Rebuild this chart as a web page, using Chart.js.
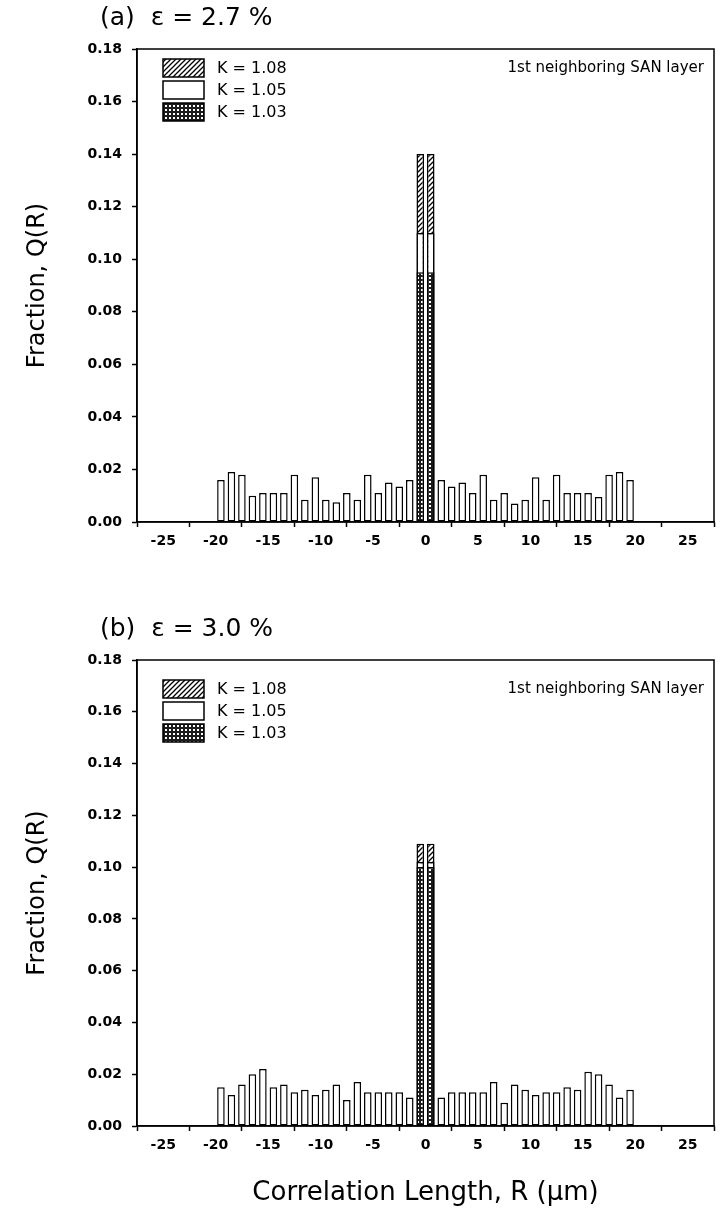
<!DOCTYPE html>
<html>
<head>
<meta charset="utf-8">
<script src="https://cdn.jsdelivr.net/npm/chart.js@4.4.1/dist/chart.umd.min.js"></script>
<style>
  body { margin: 0; background: #fff; width: 721px; height: 1213px; position: relative; overflow: hidden; }
  canvas { position: absolute; left: 0; }
  #chartA { top: 0; }
  #chartB { top: 560px; }
</style>
</head>
<body>
<canvas id="chartA" width="721" height="560"></canvas>
<canvas id="chartB" width="721" height="653"></canvas>
<script>
// bin centres of the histogram, R in micrometres
const rBins = [-19.5, -18.5, -17.5, -16.5, -15.5, -14.5, -13.5, -12.5, -11.5, -10.5,
  -9.5, -8.5, -7.5, -6.5, -5.5, -4.5, -3.5, -2.5, -1.5, -0.5,
  0.5, 1.5, 2.5, 3.5, 4.5, 5.5, 6.5, 7.5, 8.5, 9.5,
  10.5, 11.5, 12.5, 13.5, 14.5, 15.5, 16.5, 17.5, 18.5, 19.5];
const peakBins = [-0.5, 0.5];
const xTicks = [-25, -20, -15, -10, -5, 0, 5, 10, 15, 20, 25];
const yTicks = [0.00, 0.02, 0.04, 0.06, 0.08, 0.10, 0.12, 0.14, 0.16, 0.18];
const kLabels = ['K = 1.08', 'K = 1.05', 'K = 1.03'];

// (a) eps = 2.7 %
const qA_K105 = [0.016, 0.019, 0.018, 0.010, 0.011, 0.011, 0.011, 0.018, 0.0085, 0.017,
  0.0085, 0.0075, 0.011, 0.0085, 0.018, 0.011, 0.015, 0.0135, 0.016, 0.110,
  0.110, 0.016, 0.0135, 0.015, 0.011, 0.018, 0.0085, 0.011, 0.007, 0.0085,
  0.017, 0.0085, 0.018, 0.011, 0.011, 0.011, 0.0095, 0.018, 0.019, 0.016];
const peakA_K108 = [0.140, 0.140];
const peakA_K103 = [0.095, 0.095];

// (b) eps = 3.0 %
const qB_K105 = [0.015, 0.012, 0.016, 0.020, 0.022, 0.015, 0.016, 0.013, 0.014, 0.012,
  0.014, 0.016, 0.010, 0.017, 0.013, 0.013, 0.013, 0.013, 0.011, 0.102,
  0.102, 0.011, 0.013, 0.013, 0.013, 0.013, 0.017, 0.009, 0.016, 0.014,
  0.012, 0.013, 0.013, 0.015, 0.014, 0.021, 0.020, 0.016, 0.011, 0.014];
const peakB_K108 = [0.109, 0.109];
const peakB_K103 = [0.100, 0.100];

const FONT = '"DejaVu Sans", sans-serif';

function makeHatch() {
  const c = document.createElement('canvas');
  c.width = 5; c.height = 5;
  const g = c.getContext('2d');
  g.fillStyle = '#fff'; g.fillRect(0, 0, 5, 5);
  g.strokeStyle = '#000'; g.lineWidth = 1.3;
  g.beginPath();
  g.moveTo(-1, 6); g.lineTo(6, -1);
  g.moveTo(-1, 1); g.lineTo(1, -1);
  g.moveTo(4, 6); g.lineTo(6, 4);
  g.stroke();
  return g.createPattern(c, 'repeat');
}

function makeDots() {
  const c = document.createElement('canvas');
  c.width = 4; c.height = 4;
  const g = c.getContext('2d');
  g.fillStyle = '#1c1c1c'; g.fillRect(0, 0, 4, 4);
  g.fillStyle = '#fff'; g.fillRect(1, 1, 2, 2);
  return g.createPattern(c, 'repeat');
}

const hatch = makeHatch();
const dots = makeDots();

function pts(xs, ys) {
  return xs.map((x, i) => ({ x: x, y: ys[i] }));
}

// frame, panel title, note and legend
const panelDecor = {
  id: 'panelDecor',
  afterDraw(chart, args, opts) {
    const ctx = chart.ctx, a = chart.chartArea;
    ctx.save();
    ctx.strokeStyle = '#000';
    ctx.lineWidth = 1.5;
    ctx.strokeRect(a.left, a.top, a.right - a.left, a.bottom - a.top);

    ctx.fillStyle = '#000';
    ctx.textBaseline = 'middle';
    ctx.textAlign = 'left';
    ctx.font = '25px ' + FONT;
    ctx.fillText(opts.title, 100, a.top - 31);

    ctx.font = '15px ' + FONT;
    ctx.textAlign = 'right';
    ctx.fillText(opts.note, a.right - 10, a.top + opts.legendTop + 9);

    ctx.textAlign = 'left';
    ctx.font = '16px ' + FONT;
    chart.data.datasets.forEach((ds, i) => {
      const x = a.left + 26, y = a.top + opts.legendTop + i * 22;
      ctx.fillStyle = ds.backgroundColor;
      ctx.fillRect(x, y, 41, 18);
      ctx.lineWidth = 1.5;
      ctx.strokeRect(x, y, 41, 18);
      ctx.fillStyle = '#000';
      ctx.fillText(ds.label, x + 54, y + 10);
    });
    ctx.restore();
  }
};

function buildPanel(id, opts) {
  const barStyle = { borderColor: '#000', borderWidth: 1.5, borderSkipped: false,
    barPercentage: 0.72, categoryPercentage: 1 };
  return new Chart(document.getElementById(id), {
    type: 'bar',
    data: {
      datasets: [
        Object.assign({ label: kLabels[0], data: pts(peakBins, opts.k108), backgroundColor: hatch, order: 2 }, barStyle),
        Object.assign({ label: kLabels[1], data: pts(rBins, opts.k105), backgroundColor: '#fff', order: 1 }, barStyle),
        Object.assign({ label: kLabels[2], data: pts(peakBins, opts.k103), backgroundColor: dots, order: 0 }, barStyle)
      ]
    },
    options: {
      responsive: false,
      animation: false,
      devicePixelRatio: 1,
      layout: { padding: { top: opts.top, right: 7, bottom: 0, left: 0 } },
      plugins: {
        legend: { display: false },
        tooltip: { enabled: false },
        panelDecor: { title: opts.title, note: '1st neighboring SAN layer', legendTop: opts.legendTop }
      },
      scales: {
        x: {
          type: 'linear',
          stacked: true,
          min: -25, max: 25,
          afterBuildTicks: (s) => { s.ticks = xTicks.map(v => ({ value: v })); },
          afterFit: (s) => { s.height = opts.xHeight; s.paddingLeft = 0; s.paddingRight = 0; },
          grid: { drawOnChartArea: false, tickLength: 5, tickColor: '#000', tickWidth: 1.5 },
          border: { color: '#000', width: 1.5 },
          ticks: { color: '#000', padding: 6, maxRotation: 0, font: { family: FONT, size: 14, weight: 'bold' } },
          title: {
            display: !!opts.xTitle,
            text: opts.xTitle || '',
            color: '#000',
            font: { family: FONT, size: 26 },
            padding: { top: 0, bottom: 4 }
          }
        },
        y: {
          stacked: false,
          min: 0, max: 0.18,
          afterBuildTicks: (s) => { s.ticks = yTicks.map(v => ({ value: v })); },
          afterFit: (s) => { s.width = 137; },
          grid: { drawOnChartArea: false, tickLength: 5, tickColor: '#000', tickWidth: 1.5 },
          border: { color: '#000', width: 1.5 },
          ticks: {
            color: '#000', padding: 10,
            font: { family: FONT, size: 14, weight: 'bold' },
            callback: (v) => v.toFixed(2)
          },
          title: {
            display: true,
            text: 'Fraction, Q(R)',
            color: '#000',
            font: { family: FONT, size: 24 },
            padding: { top: 23, bottom: 0 }
          }
        }
      }
    },
    plugins: [panelDecor]
  });
}

buildPanel('chartA', {
  title: '(a)  ε = 2.7 %', top: 49, xHeight: 38, legendTop: 10,
  k108: peakA_K108, k105: qA_K105, k103: peakA_K103
});
buildPanel('chartB', {
  title: '(b)  ε = 3.0 %', top: 100, xHeight: 87, legendTop: 20,
  k108: peakB_K108, k105: qB_K105, k103: peakB_K103,
  xTitle: 'Correlation Length, R (μm)'
});
</script>
</body>
</html>
